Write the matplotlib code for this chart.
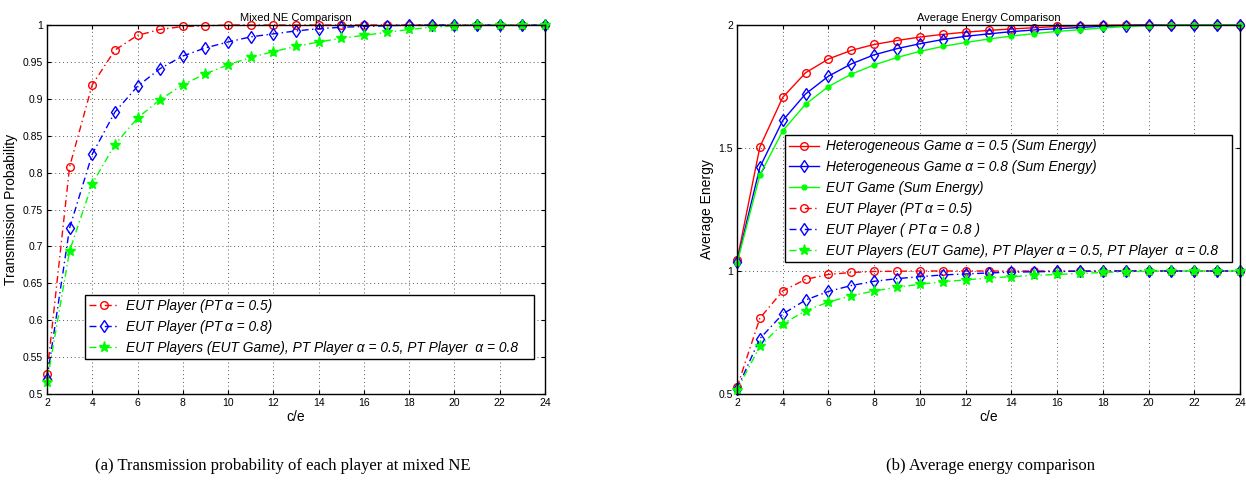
import matplotlib.pyplot as plt

plt.rcParams['font.family'] = ['Liberation Sans', 'DejaVu Sans']

# c/e values
ce = list(range(2, 25))

# transmission probability / individual energy
eut_pt05 = [0.527, 0.808, 0.919, 0.966, 0.986, 0.994, 0.998, 0.999, 1.0, 1.0, 1.0, 1.0,
            1.0, 1.0, 1.0, 1.0, 1.0, 1.0, 1.0, 1.0, 1.0, 1.0, 1.0]
eut_pt08 = [0.520, 0.725, 0.825, 0.882, 0.917, 0.941, 0.958, 0.969, 0.977, 0.984, 0.988, 0.992,
            0.995, 0.997, 0.998, 0.999, 1.0, 1.0, 1.0, 1.0, 1.0, 1.0, 1.0]
eut_game = [0.516, 0.694, 0.785, 0.838, 0.874, 0.899, 0.919, 0.934, 0.946, 0.956, 0.964, 0.971,
            0.977, 0.982, 0.986, 0.990, 0.994, 0.997, 0.999, 1.0, 1.0, 1.0, 1.0]

# sum energy
het05_sum = [1.043, 1.504, 1.706, 1.806, 1.862, 1.897, 1.921, 1.937, 1.951, 1.962, 1.971, 1.978,
             1.984, 1.989, 1.994, 1.997, 1.999, 2.0, 2.0, 2.0, 2.0, 2.0, 2.0]
het08_sum = [1.036, 1.422, 1.612, 1.720, 1.792, 1.842, 1.879, 1.904, 1.924, 1.941, 1.954, 1.964,
             1.973, 1.980, 1.985, 1.990, 1.995, 1.998, 2.0, 2.0, 2.0, 2.0, 2.0]
eut_sum = [1.032, 1.390, 1.570, 1.678, 1.750, 1.800, 1.838, 1.868, 1.893, 1.913, 1.929, 1.943,
           1.955, 1.965, 1.974, 1.981, 1.988, 1.994, 1.998, 2.0, 2.0, 2.0, 2.0]

xticks = list(range(2, 25, 2))
left_yticks = [0.5, 0.55, 0.6, 0.65, 0.7, 0.75, 0.8, 0.85, 0.9, 0.95, 1.0]
left_ylabels = ['0.5', '0.55', '0.6', '0.65', '0.7', '0.75', '0.8', '0.85', '0.9', '0.95', '1']
right_yticks = [0.5, 1.0, 1.5, 2.0]
right_ylabels = ['0.5', '1', '1.5', '2']

lab_a = 'EUT Player (PT\u2009\u03b1 = 0.5)'
lab_b = 'EUT Player (PT\u2009\u03b1 = 0.8)'
lab_c = 'EUT Players (EUT Game), PT Player \u03b1 = 0.5, PT Player  \u03b1 = 0.8'

fig = plt.figure(figsize=(12.46, 4.83), dpi=100)
ax1 = fig.add_axes([0.0377, 0.1843, 0.3997, 0.7639])
ax2 = fig.add_axes([0.5915, 0.1843, 0.4037, 0.7639])

red, blue, green = (1, 0, 0), (0, 0, 1), (0, 1, 0)
dashdot = (0, (5, 2.5, 1, 2.5))
mk = dict(markerfacecolor='none', clip_on=False, linewidth=1.0, markeredgewidth=1.0)

# left panel
ax1.plot(ce, eut_pt05, linestyle=dashdot, color=red, marker='o', markersize=5.5, label=lab_a, **mk)
ax1.plot(ce, eut_pt08, linestyle=dashdot, color=blue, marker='d', markersize=6, label=lab_b, **mk)
ax1.plot(ce, eut_game, linestyle=dashdot, color=green, marker='*', markersize=8, markerfacecolor=green,
         clip_on=False, linewidth=1.0, label=lab_c)

# right panel
ax2.plot(ce, het05_sum, '-', color=red, marker='o', markersize=5.5,
         label='Heterogeneous Game \u03b1 = 0.5 (Sum Energy)', **mk)
ax2.plot(ce, het08_sum, '-', color=blue, marker='d', markersize=6,
         label='Heterogeneous Game \u03b1 = 0.8 (Sum Energy)', **mk)
ax2.plot(ce, eut_sum, '-', color=green, marker='.', markersize=7, clip_on=False, linewidth=1.0,
         label='EUT Game (Sum Energy)')
ax2.plot(ce, eut_pt05, linestyle=dashdot, color=red, marker='o', markersize=5.5, label=lab_a, **mk)
ax2.plot(ce, eut_pt08, linestyle=dashdot, color=blue, marker='d', markersize=6,
         label='EUT Player ( PT\u2009\u03b1 = 0.8 )', **mk)
ax2.plot(ce, eut_game, linestyle=dashdot, color=green, marker='*', markersize=8, markerfacecolor=green,
         clip_on=False, linewidth=1.0, label=lab_c)

for ax in (ax1, ax2):
    ax.set_xlim(2, 24)
    ax.set_xticks(xticks)
    ax.grid(True, linestyle=(0, (1, 3)), color='0.35', linewidth=0.7)
    ax.tick_params(direction='in', labelsize=7.5, length=3, top=True, right=True, pad=3)
    for s in ax.spines.values():
        s.set_linewidth(1.0)
    ax.set_xlabel('c/e', fontsize=10, labelpad=1)

ax1.set_ylim(0.5, 1.0)
ax1.set_yticks(left_yticks)
ax1.set_yticklabels(left_ylabels)
ax1.set_ylabel('Transmission Probability', fontsize=10, labelpad=3)
ax1.set_title('Mixed NE Comparison', fontsize=8, pad=3)

ax2.set_ylim(0.5, 2.0)
ax2.set_yticks(right_yticks)
ax2.set_yticklabels(right_ylabels)
ax2.set_ylabel('Average Energy', fontsize=10, labelpad=3)
ax2.set_title('Average Energy Comparison', fontsize=8, pad=3)

leg_kw = dict(fancybox=False, edgecolor='black', framealpha=1, borderaxespad=0,
              handlelength=2.2, handletextpad=0.5, labelspacing=0.5, borderpad=0.3,
              prop={'style': 'italic', 'size': 9.9})
l1 = ax1.legend(loc='lower left', bbox_to_anchor=(0.076, 0.095, 0.902, 0.173), mode='expand', **leg_kw)
l2 = ax2.legend(loc='lower left', bbox_to_anchor=(0.095, 0.358, 0.89, 0.338), mode='expand', **leg_kw)
for l in (l1, l2):
    l.get_frame().set_linewidth(1.0)

fig.text(0.227, 0.035, '(a) Transmission probability of each player at mixed NE',
         ha='center', va='center', fontsize=12, family='Liberation Serif')
fig.text(0.795, 0.035, '(b) Average energy comparison',
         ha='center', va='center', fontsize=12, family='Liberation Serif')

fig.savefig('out.png', dpi=100)
